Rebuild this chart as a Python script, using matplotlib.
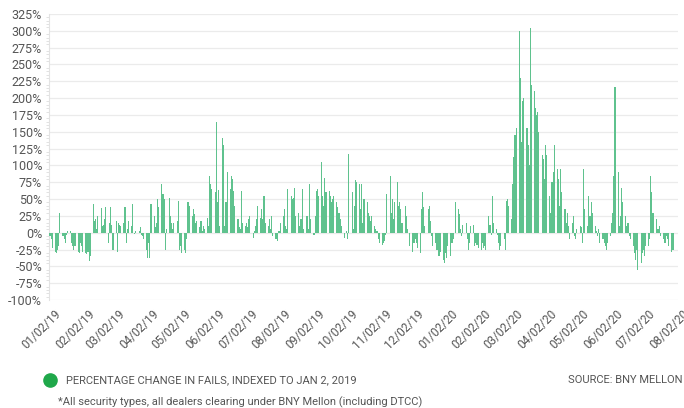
import matplotlib
matplotlib.use("Agg")
import matplotlib.pyplot as plt
import matplotlib.transforms as mtransforms
from matplotlib.lines import Line2D
from matplotlib.ticker import MultipleLocator, FuncFormatter
import pandas as pd

# ---- data: daily % change in fails, indexed to Jan 2 2019 (per business day) ----
jan19 = [-5, -10, -22, -28, -30, -25, -20, 30, -5, -10, -15, -3, 2, 3, -15, -20, -25, -20, -28, -30, -15, -20]
feb19 = [-28, -30, -32, -28, -42, -35, 43, 18, 20, 5, 25, 37, 10, 12, 20, 38, -15, 15, 38, 12]
mar19 = [-25, 18, -28, 15, 12, 10, 15, 38, -15, 5, 18, 10, 42, 0, -2, 2, 3, 8, -3, -5, -10]
apr19 = [-25, -38, -15, -38, 43, 25, 8, 15, 50, 38, 72, 58, 50, -25, 5, 52, 25, 15, 5, 15, 17, 47]
may19 = [-25, -20, -30, -25, -30, -10, 45, 40, 25, 35, 28, 15, 18, 8, 18, 2, 10, 5, 22, 10, 85, 72, 65]
jun19 = [60, 165, 45, 64, 10, 140, 130, 10, 45, 90, 65, 85, 80, 62, 40, 20, 8, 5, 62, 15]
jul19 = [10, 15, 8, 20, 25, -8, 2, 10, 20, 40, 22, 35, 20, 55, 15, 10, 20, 5, 25, -5, -10, -13, 2]
aug19 = [2, 15, 25, 35, 10, 5, 65, 55, 50, 52, 67, 25, 30, 10, 20, 65, 5, 25, 25, 5, 72, 20]
sep19 = [-3, 25, 62, 65, 55, 105, 55, 40, 82, 60, 62, 55, 45, 50, 55, 45, 38, 30, 20, 10, -8]
oct19 = [0, 3, -10, 117, 60, 5, 40, 78, 75, 72, 35, 72, 15, 50, 45, 30, 25, 18, 25, 10, 5, 3, -10]
nov19 = [-15, -18, -15, -13, -3, 58, 85, 30, 50, 20, 45, 75, 40, 45, 35, 15, 40, 25, 5, 0, -20]
dec19 = [-28, -15, -10, -15, -22, -30, 35, 60, 38, 10, 35, 40, 18, -5, -20, -15, -25, -25, -35, -28, -40, -45]
jan20 = [-30, -38, -20, -35, -15, -10, 0, 45, 35, 28, 5, -5, 12, 15, -10, -25, -15, 10, 12, -20, -15, -18, -22]
feb20 = [-25, -15, -22, -20, -25, 25, 12, -3, 55, 15, 5, -3, -15, -25, -20, -10, -25, 47, 50, 40]
mar20 = [20, 73, 113, 145, 155, 300, 230, 135, 195, 200, 155, 130, 100, 304, 220, 210, 185, 175, 180, 150, 115, 110]
apr20 = [80, 130, 115, 55, 30, 75, 90, 130, 95, 80, 40, 95, 60, 35, 15, 30, 10, -10, 15, 25, -5, -10]
may20 = [5, 10, 8, -15, 94, 35, 10, 54, 25, 45, 30, 10, 2, -5, 5, -15, -10, -15, -20, -25, -15]
jun20 = [-5, 15, 30, 85, 217, 90, 10, 25, 67, 45, 25, 10, 15, -5, -10, -20, -30, -40, -25, -55, -45, -30]
jul20 = [-25, -35, -20, -20, -10, 85, 60, 30, 20, 5, 5, 10, -5, -10, -15, -5, -10, -20, -28, -25, -25]

tick_labels = ["01/02/19", "02/02/19", "03/02/19", "04/02/19", "05/02/19", "06/02/19",
               "07/02/19", "08/02/19", "09/02/19", "10/02/19", "11/02/19", "12/02/19",
               "01/02/20", "02/02/20", "03/02/20", "04/02/20", "05/02/20", "06/02/20",
               "07/02/20", "08/02/20"]

series_label = "PERCENTAGE CHANGE IN FAILS, INDEXED TO JAN 2, 2019"
source_text = "SOURCE: BNY MELLON"
note_text = "*All security types, all dealers clearing under BNY Mellon (including DTCC)"

values = (jan19 + feb19 + mar19 + apr19 + may19 + jun19 + jul19 + aug19 + sep19 +
          oct19 + nov19 + dec19 + jan20 + feb20 + mar20 + apr20 + may20 + jun20 + jul20)
dates = pd.bdate_range("2019-01-02", "2020-07-29")
n = min(len(values), len(dates))
dates = dates[:n]
values = values[:n]

# ---- style ----
plt.rcParams['font.family'] = ['Roboto', 'DejaVu Sans']
bar_color = '#5fc28e'
text_color = '#555555'
grid_color = '#ebebeb'

W, H = 684, 408
fig = plt.figure(figsize=(W / 100, H / 100), dpi=100)
ax = fig.add_axes([49 / W, 1 - 300 / H, (678 - 49) / W, (300 - 14) / H])

ax.bar(dates, values, width=1.0, color=bar_color, linewidth=0, zorder=3)

ax.set_ylim(-100, 325)
ax.yaxis.set_major_locator(MultipleLocator(25))
ax.yaxis.set_minor_locator(MultipleLocator(5))
ax.yaxis.set_major_formatter(FuncFormatter(lambda v, p: f"{int(v)}%"))
ax.grid(axis='y', color=grid_color, linewidth=0.9, zorder=0)
ax.set_axisbelow(True)

tick_dates = [pd.Timestamp(2019 + (i // 12), (i % 12) + 1, 2) for i in range(len(tick_labels))]
ax.set_xlim(pd.Timestamp("2019-01-01 02:00"), pd.Timestamp("2020-08-02"))
ax.set_xticks(tick_dates)
ax.set_xticklabels(tick_labels, rotation=45, ha='right', va='center',
                   rotation_mode='anchor', color=text_color, fontsize=8.5)
ax.tick_params(axis='x', length=0, pad=8)
shift = mtransforms.ScaledTranslation(9 / 100, -1 / 100, fig.dpi_scale_trans)
for lab in ax.get_xticklabels():
    lab.set_transform(lab.get_transform() + shift)
ax.tick_params(axis='y', which='major', length=0, labelsize=9, labelcolor=text_color, pad=5)
ax.tick_params(axis='y', which='minor', length=2.5, color='#dddddd', width=0.6)

for s in ['top', 'right', 'bottom']:
    ax.spines[s].set_visible(False)
ax.spines['left'].set_color('#e3e3e3')
ax.spines['left'].set_linewidth(0.8)

# ---- legend & notes ----
fig.add_artist(Line2D([50 / W], [1 - 380 / H], marker='o', markersize=9.5,
                      color='#1fa84a', linestyle='none', transform=fig.transFigure))
fig.text(66 / W, 1 - 380 / H, series_label, fontsize=8, color=text_color,
         va='center', ha='left')
fig.text(683 / W, 1 - 380 / H, source_text, fontsize=8, color=text_color,
         va='center', ha='right')
fig.text(58 / W, 1 - 402 / H, note_text, fontsize=8, color=text_color,
         va='center', ha='left')

fig.savefig("out.png", dpi=100)
